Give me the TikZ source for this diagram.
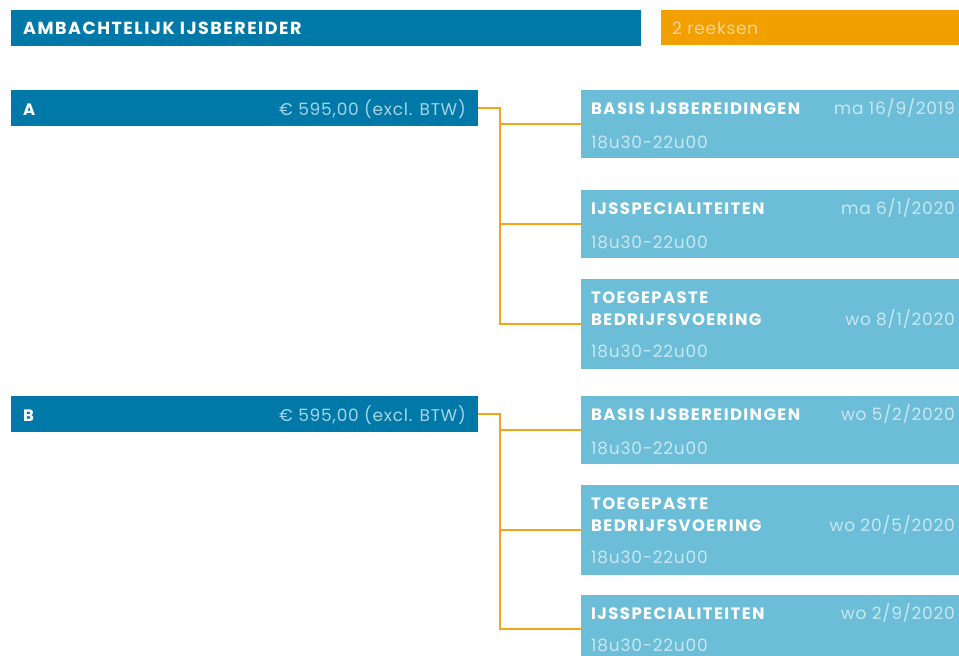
\documentclass[tikz,border=0pt]{standalone}
\usepackage{fontspec}
\setmainfont{Poppins}
\newfontfamily\ttlfont[LetterSpace=8.5]{Poppins}
\newfontfamily\txtfont[LetterSpace=4.5]{Poppins}
\usetikzlibrary{calc}
\definecolor{dblue}{HTML}{0079A9}
\definecolor{lblue}{HTML}{6CBED8}
\definecolor{orng}{HTML}{F29F00}
\definecolor{connorng}{HTML}{F4A41A}
\definecolor{paletxt}{HTML}{C8E7F2}
\definecolor{pricetxt}{HTML}{A6D3E6}
\definecolor{orngtxt}{HTML}{FAD598}
\tikzset{
  bar/.style={anchor=north west, inner sep=0pt, outer sep=0pt, minimum height=36},
  darkbar/.style={bar, fill=dblue},
  tbox/.style={anchor=north west, inner sep=0pt, outer sep=0pt, fill=lblue, minimum width=380, minimum height=68},
  tboxtall/.style={tbox, minimum height=90},
  ttl/.style={anchor=base west, inner sep=0pt, text=white, align=left, font=\ttlfont\fontsize{16.5}{22}\selectfont\bfseries},
  datetxt/.style={anchor=base east, inner sep=0pt, text=paletxt, font=\txtfont\fontsize{17}{20}\selectfont},
  timetxt/.style={anchor=base west, inner sep=0pt, text=paletxt, font=\txtfont\fontsize{17}{20}\selectfont},
  conn/.style={draw=connorng, line width=2.5pt},
}
\begin{document}
\begin{tikzpicture}[x=1pt,y=-1pt]
\useasboundingbox (0,0) rectangle (959,656);
\clip (0,0) rectangle (959,656);
% header
\node[darkbar, minimum width=630] (hdr) at (11,10) {};
\node[ttl, font=\ttlfont\fontsize{17.5}{22}\selectfont\bfseries] (hdrtxt) at ($(hdr.north west)+(12,24)$) {AMBACHTELIJK IJSBEREIDER};
\node[bar, fill=orng, minimum width=300, minimum height=35] (rk) at (661,10) {};
\node[timetxt, text=orngtxt] (rktxt) at ($(rk.north west)+(11,24)$) {2 reeksen};
% series A
\node[darkbar, minimum width=467] (A) at (11,90) {};
\node[ttl] (Atxt) at ($(A.north west)+(12,25)$) {A};
\node[datetxt, text=pricetxt] (Aprice) at ($(A.north east)+(-12,25)$) {€ 595,00 (excl. BTW)};
\node[tbox] (a1) at (581,90) {};
\node[tbox] (a2) at (581,190) {};
\node[tboxtall] (a3) at (581,279) {};
% series B
\node[darkbar, minimum width=467] (B) at (11,396) {};
\node[ttl] (Btxt) at ($(B.north west)+(12,25)$) {B};
\node[datetxt, text=pricetxt] (Bprice) at ($(B.north east)+(-12,25)$) {€ 595,00 (excl. BTW)};
\node[tbox] (b1) at (581,396) {};
\node[tboxtall] (b2) at (581,485) {};
\node[tbox] (b3) at (581,595) {};
% texts in boxes
\node[ttl] at ($(a1.north west)+(10,24)$) {BASIS IJSBEREIDINGEN};
\node[datetxt] at ($(a1.north west)+(374,24)$) {ma 16/9/2019};
\node[timetxt] at ($(a1.north west)+(10,58)$) {18u30-22u00};
\node[ttl] at ($(a2.north west)+(10,24)$) {IJSSPECIALITEITEN};
\node[datetxt] at ($(a2.north west)+(374,24)$) {ma 6/1/2020};
\node[timetxt] at ($(a2.north west)+(10,58)$) {18u30-22u00};
\node[ttl] at ($(a3.north west)+(10,46)$) {TOEGEPASTE\\BEDRIJFSVOERING};
\node[datetxt] at ($(a3.north west)+(374,46)$) {wo 8/1/2020};
\node[timetxt] at ($(a3.north west)+(10,78)$) {18u30-22u00};
\node[ttl] at ($(b1.north west)+(10,24)$) {BASIS IJSBEREIDINGEN};
\node[datetxt] at ($(b1.north west)+(374,24)$) {wo 5/2/2020};
\node[timetxt] at ($(b1.north west)+(10,58)$) {18u30-22u00};
\node[ttl] at ($(b2.north west)+(10,46)$) {TOEGEPASTE\\BEDRIJFSVOERING};
\node[datetxt] at ($(b2.north west)+(374,46)$) {wo 20/5/2020};
\node[timetxt] at ($(b2.north west)+(10,78)$) {18u30-22u00};
\node[ttl] at ($(b3.north west)+(10,24)$) {IJSSPECIALITEITEN};
\node[datetxt] at ($(b3.north west)+(374,24)$) {wo 2/9/2020};
\node[timetxt] at ($(b3.north west)+(10,56)$) {18u30-22u00};
% connectors
\coordinate (ja) at ($(A.east)+(22,0)$);
\coordinate (jb) at ($(B.east)+(22,0)$);
\draw[conn] (A.east) -- (ja) |- (a1.west);
\draw[conn] (ja) |- (a2.west);
\draw[conn] (ja) |- (a3.west);
\draw[conn] (B.east) -- (jb) |- (b1.west);
\draw[conn] (jb) |- (b2.west);
\draw[conn] (jb) |- (b3.west);
\end{tikzpicture}
\end{document}
